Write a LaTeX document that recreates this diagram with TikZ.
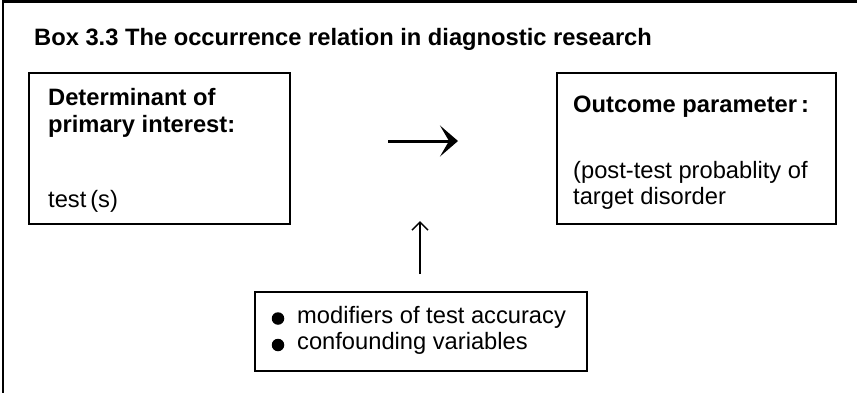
\documentclass[tikz,border=0pt]{standalone}
\usepackage{fontspec}
\setmainfont{Liberation Sans}
\usetikzlibrary{arrows.meta}

\begin{document}
\begin{tikzpicture}[x=1pt,y=-1pt,
  frame/.style={line width=2.6pt},
  boxed/.style={draw, line width=1.6pt, rectangle, inner sep=0pt},
  txt/.style={anchor=base west, inner sep=0pt, font=\fontsize{23.7}{27}\selectfont},
  btxt/.style={txt, font=\fontsize{23.7}{27}\selectfont\bfseries},
  dot/.style={circle, fill=black, inner sep=0pt, minimum size=12.5pt}
]
\useasboundingbox (0,0) rectangle (857,392);

% outer frame: only the top and left edges fall inside the page
\draw[frame] (3,395) -- (3,1.5) -- (860,1.5);

% title
\node[btxt] (title) at (34,45) {Box 3.3 The occurrence relation in diagnostic research};

% determinant box
\node[boxed, minimum width=261pt, minimum height=151pt] (det) at (159.5,148.5) {};
\node[btxt] (det1) at (48,105) {Determinant of};
\node[btxt] (det2) at (48,132) {primary interest:};
\node[txt]  (det3) at (48,207) {test\,(s)};

% outcome box
\node[boxed, minimum width=279pt, minimum height=151pt] (out) at (696.5,148.5) {};
\node[btxt] (out1) at (573,112) {Outcome parameter\,:};
\node[txt]  (out2) at (573,178) {(post-test probablity of};
\node[txt]  (out3) at (573,204) {target disorder};

% modifiers box
\node[boxed, minimum width=332pt, minimum height=79pt] (mod) at (421,331.5) {};
\node[dot] (b1) at (278,318.5) {};
\node[dot] (b2) at (278,345) {};
\node[txt] (mod1) at (297,323) {modifiers of test accuracy};
\node[txt] (mod2) at (297,349.5) {confounding variables};

% arrows
\coordinate (hA) at (388,141);
\coordinate (hB) at (458,141);
\draw[line width=3pt, -{Stealth[length=18pt,width=31pt,inset=9pt]}] (hA) -- (hB);

\coordinate (vA) at (420,274);
\coordinate (vB) at (420,221);
\draw[line width=1.5pt, -{Straight Barb[length=8pt,width=16pt]}] (vA) -- (vB);
\end{tikzpicture}
\end{document}
